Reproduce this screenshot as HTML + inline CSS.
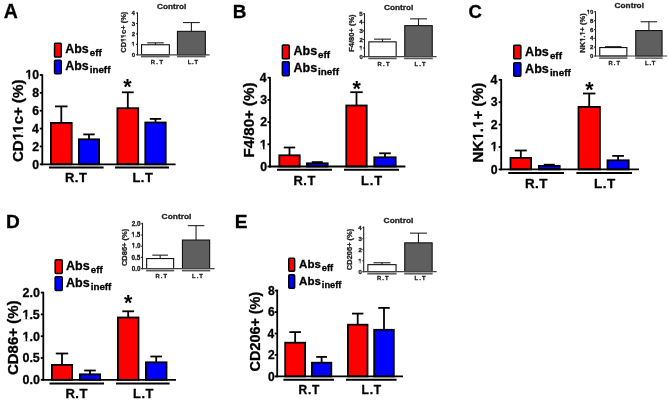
<!DOCTYPE html>
<html><head><meta charset="utf-8"><style>
html,body{margin:0;padding:0;background:#fff;}
body{width:669px;height:402px;overflow:hidden;}
svg{display:block;font-family:"Liberation Sans", sans-serif;filter:blur(0.35px);}
</style></head><body>
<svg width="669" height="402" viewBox="0 0 669 402">
<rect width="669" height="402" fill="#fff"/>
<line x1="61.30" y1="106.40" x2="61.30" y2="123.80" stroke="#000" stroke-width="1.8" stroke-linecap="butt"/>
<line x1="55.05" y1="106.40" x2="67.55" y2="106.40" stroke="#000" stroke-width="1.8" stroke-linecap="butt"/>
<rect x="50.90" y="122.90" width="20.80" height="41.40" fill="#ff0000" stroke="#000" stroke-width="1.8"/>
<line x1="89.00" y1="134.40" x2="89.00" y2="140.20" stroke="#000" stroke-width="1.8" stroke-linecap="butt"/>
<line x1="83.30" y1="134.40" x2="94.70" y2="134.40" stroke="#000" stroke-width="1.8" stroke-linecap="butt"/>
<rect x="78.90" y="139.30" width="20.20" height="25.00" fill="#0000ff" stroke="#000" stroke-width="1.8"/>
<line x1="127.80" y1="92.30" x2="127.80" y2="109.10" stroke="#000" stroke-width="1.8" stroke-linecap="butt"/>
<line x1="121.90" y1="92.30" x2="133.70" y2="92.30" stroke="#000" stroke-width="1.8" stroke-linecap="butt"/>
<rect x="117.40" y="108.20" width="20.80" height="56.10" fill="#ff0000" stroke="#000" stroke-width="1.8"/>
<line x1="155.50" y1="118.90" x2="155.50" y2="123.40" stroke="#000" stroke-width="1.8" stroke-linecap="butt"/>
<line x1="149.80" y1="118.90" x2="161.20" y2="118.90" stroke="#000" stroke-width="1.8" stroke-linecap="butt"/>
<rect x="145.30" y="122.50" width="20.40" height="41.80" fill="#0000ff" stroke="#000" stroke-width="1.8"/>
<line x1="42.30" y1="74.30" x2="42.30" y2="165.20" stroke="#000" stroke-width="1.8" stroke-linecap="butt"/>
<line x1="41.40" y1="164.30" x2="175.60" y2="164.30" stroke="#000" stroke-width="1.8" stroke-linecap="butt"/>
<line x1="39.80" y1="164.30" x2="42.30" y2="164.30" stroke="#000" stroke-width="1.8" stroke-linecap="butt"/>
<text x="32.37" y="168.54" font-size="12.3" font-weight="bold" stroke="#000" stroke-width="0.3">0</text>
<line x1="39.80" y1="146.44" x2="42.30" y2="146.44" stroke="#000" stroke-width="1.8" stroke-linecap="butt"/>
<text x="32.37" y="150.75" font-size="12.3" font-weight="bold" stroke="#000" stroke-width="0.3">2</text>
<line x1="39.80" y1="128.58" x2="42.30" y2="128.58" stroke="#000" stroke-width="1.8" stroke-linecap="butt"/>
<text x="31.94" y="132.82" font-size="12.3" font-weight="bold" stroke="#000" stroke-width="0.3">4</text>
<line x1="39.80" y1="110.72" x2="42.30" y2="110.72" stroke="#000" stroke-width="1.8" stroke-linecap="butt"/>
<text x="32.30" y="114.96" font-size="12.3" font-weight="bold" stroke="#000" stroke-width="0.3">6</text>
<line x1="39.80" y1="92.86" x2="42.30" y2="92.86" stroke="#000" stroke-width="1.8" stroke-linecap="butt"/>
<text x="32.24" y="97.10" font-size="12.3" font-weight="bold" stroke="#000" stroke-width="0.3">8</text>
<line x1="39.80" y1="75.00" x2="42.30" y2="75.00" stroke="#000" stroke-width="1.8" stroke-linecap="butt"/>
<text x="25.54" y="79.24" font-size="12.3" font-weight="bold" stroke="#000" stroke-width="0.3">10</text>
<line x1="49.00" y1="167.60" x2="103.60" y2="167.60" stroke="#000" stroke-width="2.0" stroke-linecap="butt"/>
<line x1="115.00" y1="167.60" x2="169.00" y2="167.60" stroke="#000" stroke-width="2.0" stroke-linecap="butt"/>
<text x="65.02" y="182.29" font-size="13.01" font-weight="bold" fill="#000" textLength="21.83" lengthAdjust="spacing" stroke="#000" stroke-width="0.3">R.T</text>
<text x="132.42" y="182.35" font-size="12.89" font-weight="bold" fill="#000" textLength="20.41" lengthAdjust="spacing" stroke="#000" stroke-width="0.3">L.T</text>
<text transform="translate(23.05,162.11) rotate(-90)" font-size="15.10" font-weight="bold" fill="#000" stroke="#000" stroke-width="0.3">CD11c+ (%)</text>
<text x="123.31" y="93.76" font-size="21.5" font-weight="bold" stroke="none">*</text>
<rect x="54.55" y="43.15" width="6.70" height="13.90" rx="0.9" fill="#ff0000" stroke="#000" stroke-width="1.5"/>
<text x="65.29" y="53.00" font-size="12.4" font-weight="bold" stroke="#000" stroke-width="0.3">Abs</text>
<text x="89.72" y="56.00" font-size="9.8" font-weight="bold" stroke="#000" stroke-width="0.3">eff</text>
<rect x="54.55" y="60.15" width="6.70" height="13.60" rx="0.9" fill="#0000ff" stroke="#000" stroke-width="1.5"/>
<text x="65.29" y="69.60" font-size="12.4" font-weight="bold" stroke="#000" stroke-width="0.3">Abs</text>
<text x="89.72" y="72.60" font-size="9.8" font-weight="bold" stroke="#000" stroke-width="0.3">ineff</text>
<text x="3.83" y="18.02" font-size="19.49" font-weight="bold" fill="#000" stroke="#000" stroke-width="0.3">A</text>
<line x1="289.50" y1="147.50" x2="289.50" y2="156.20" stroke="#000" stroke-width="1.8" stroke-linecap="butt"/>
<line x1="283.80" y1="147.50" x2="295.20" y2="147.50" stroke="#000" stroke-width="1.8" stroke-linecap="butt"/>
<rect x="279.30" y="155.30" width="20.40" height="11.20" fill="#ff0000" stroke="#000" stroke-width="1.8"/>
<line x1="317.30" y1="162.10" x2="317.30" y2="164.20" stroke="#000" stroke-width="1.8" stroke-linecap="butt"/>
<line x1="311.80" y1="162.10" x2="322.80" y2="162.10" stroke="#000" stroke-width="1.8" stroke-linecap="butt"/>
<rect x="306.90" y="163.30" width="20.80" height="3.20" fill="#0000ff" stroke="#000" stroke-width="1.8"/>
<line x1="356.50" y1="92.20" x2="356.50" y2="106.40" stroke="#000" stroke-width="1.8" stroke-linecap="butt"/>
<line x1="350.30" y1="92.20" x2="362.70" y2="92.20" stroke="#000" stroke-width="1.8" stroke-linecap="butt"/>
<rect x="346.30" y="105.50" width="20.40" height="61.00" fill="#ff0000" stroke="#000" stroke-width="1.8"/>
<line x1="385.00" y1="153.30" x2="385.00" y2="158.20" stroke="#000" stroke-width="1.8" stroke-linecap="butt"/>
<line x1="379.20" y1="153.30" x2="390.80" y2="153.30" stroke="#000" stroke-width="1.8" stroke-linecap="butt"/>
<rect x="374.30" y="157.30" width="21.40" height="9.20" fill="#0000ff" stroke="#000" stroke-width="1.8"/>
<line x1="270.00" y1="77.00" x2="270.00" y2="167.40" stroke="#000" stroke-width="1.8" stroke-linecap="butt"/>
<line x1="269.10" y1="166.50" x2="405.40" y2="166.50" stroke="#000" stroke-width="1.8" stroke-linecap="butt"/>
<line x1="267.50" y1="166.50" x2="270.00" y2="166.50" stroke="#000" stroke-width="1.8" stroke-linecap="butt"/>
<text x="260.27" y="170.74" font-size="12.3" font-weight="bold" stroke="#000" stroke-width="0.3">0</text>
<line x1="267.50" y1="144.30" x2="270.00" y2="144.30" stroke="#000" stroke-width="1.8" stroke-linecap="butt"/>
<text x="260.08" y="148.54" font-size="12.3" font-weight="bold" stroke="#000" stroke-width="0.3">1</text>
<line x1="267.50" y1="122.10" x2="270.00" y2="122.10" stroke="#000" stroke-width="1.8" stroke-linecap="butt"/>
<text x="260.27" y="126.41" font-size="12.3" font-weight="bold" stroke="#000" stroke-width="0.3">2</text>
<line x1="267.50" y1="99.90" x2="270.00" y2="99.90" stroke="#000" stroke-width="1.8" stroke-linecap="butt"/>
<text x="260.20" y="104.14" font-size="12.3" font-weight="bold" stroke="#000" stroke-width="0.3">3</text>
<line x1="267.50" y1="77.70" x2="270.00" y2="77.70" stroke="#000" stroke-width="1.8" stroke-linecap="butt"/>
<text x="259.84" y="81.94" font-size="12.3" font-weight="bold" stroke="#000" stroke-width="0.3">4</text>
<line x1="277.00" y1="169.80" x2="332.00" y2="169.80" stroke="#000" stroke-width="2.0" stroke-linecap="butt"/>
<line x1="344.00" y1="169.80" x2="399.00" y2="169.80" stroke="#000" stroke-width="2.0" stroke-linecap="butt"/>
<text x="293.41" y="184.96" font-size="12.93" font-weight="bold" fill="#000" textLength="22.04" lengthAdjust="spacing" stroke="#000" stroke-width="0.3">R.T</text>
<text x="360.98" y="184.75" font-size="12.88" font-weight="bold" fill="#000" textLength="21.26" lengthAdjust="spacing" stroke="#000" stroke-width="0.3">L.T</text>
<text transform="translate(254.25,157.57) rotate(-90)" font-size="15.10" font-weight="bold" fill="#000" stroke="#000" stroke-width="0.3">F4/80+ (%)</text>
<text x="352.41" y="95.86" font-size="21.5" font-weight="bold" stroke="none">*</text>
<rect x="282.35" y="44.95" width="6.90" height="13.90" rx="0.9" fill="#ff0000" stroke="#000" stroke-width="1.5"/>
<text x="293.49" y="55.00" font-size="12.5" font-weight="bold" stroke="#000" stroke-width="0.3">Abs</text>
<text x="318.10" y="58.00" font-size="9.9" font-weight="bold" stroke="#000" stroke-width="0.3">eff</text>
<rect x="282.35" y="61.85" width="6.90" height="13.90" rx="0.9" fill="#0000ff" stroke="#000" stroke-width="1.5"/>
<text x="293.49" y="71.90" font-size="12.5" font-weight="bold" stroke="#000" stroke-width="0.3">Abs</text>
<text x="318.10" y="74.90" font-size="9.9" font-weight="bold" stroke="#000" stroke-width="0.3">ineff</text>
<text x="232.80" y="18.03" font-size="18.93" font-weight="bold" fill="#000" stroke="#000" stroke-width="0.3">B</text>
<line x1="520.80" y1="150.50" x2="520.80" y2="158.80" stroke="#000" stroke-width="1.8" stroke-linecap="butt"/>
<line x1="514.80" y1="150.50" x2="526.80" y2="150.50" stroke="#000" stroke-width="1.8" stroke-linecap="butt"/>
<rect x="510.50" y="157.90" width="20.60" height="11.50" fill="#ff0000" stroke="#000" stroke-width="1.8"/>
<line x1="549.30" y1="164.70" x2="549.30" y2="166.80" stroke="#000" stroke-width="1.8" stroke-linecap="butt"/>
<line x1="543.80" y1="164.70" x2="554.80" y2="164.70" stroke="#000" stroke-width="1.8" stroke-linecap="butt"/>
<rect x="538.90" y="165.90" width="20.80" height="3.50" fill="#0000ff" stroke="#000" stroke-width="1.8"/>
<line x1="589.20" y1="93.50" x2="589.20" y2="107.80" stroke="#000" stroke-width="1.8" stroke-linecap="butt"/>
<line x1="583.00" y1="93.50" x2="595.40" y2="93.50" stroke="#000" stroke-width="1.8" stroke-linecap="butt"/>
<rect x="578.50" y="106.90" width="21.40" height="62.50" fill="#ff0000" stroke="#000" stroke-width="1.8"/>
<line x1="618.10" y1="155.90" x2="618.10" y2="161.20" stroke="#000" stroke-width="1.8" stroke-linecap="butt"/>
<line x1="612.30" y1="155.90" x2="623.90" y2="155.90" stroke="#000" stroke-width="1.8" stroke-linecap="butt"/>
<rect x="607.50" y="160.30" width="21.20" height="9.10" fill="#0000ff" stroke="#000" stroke-width="1.8"/>
<line x1="501.20" y1="79.00" x2="501.20" y2="170.30" stroke="#000" stroke-width="1.8" stroke-linecap="butt"/>
<line x1="500.30" y1="169.40" x2="639.00" y2="169.40" stroke="#000" stroke-width="1.8" stroke-linecap="butt"/>
<line x1="498.70" y1="169.40" x2="501.20" y2="169.40" stroke="#000" stroke-width="1.8" stroke-linecap="butt"/>
<text x="490.87" y="173.64" font-size="12.3" font-weight="bold" stroke="#000" stroke-width="0.3">0</text>
<line x1="498.70" y1="147.00" x2="501.20" y2="147.00" stroke="#000" stroke-width="1.8" stroke-linecap="butt"/>
<text x="490.68" y="151.24" font-size="12.3" font-weight="bold" stroke="#000" stroke-width="0.3">1</text>
<line x1="498.70" y1="124.60" x2="501.20" y2="124.60" stroke="#000" stroke-width="1.8" stroke-linecap="butt"/>
<text x="490.87" y="128.91" font-size="12.3" font-weight="bold" stroke="#000" stroke-width="0.3">2</text>
<line x1="498.70" y1="102.20" x2="501.20" y2="102.20" stroke="#000" stroke-width="1.8" stroke-linecap="butt"/>
<text x="490.80" y="106.44" font-size="12.3" font-weight="bold" stroke="#000" stroke-width="0.3">3</text>
<line x1="498.70" y1="79.80" x2="501.20" y2="79.80" stroke="#000" stroke-width="1.8" stroke-linecap="butt"/>
<text x="490.44" y="84.04" font-size="12.3" font-weight="bold" stroke="#000" stroke-width="0.3">4</text>
<line x1="508.30" y1="173.10" x2="564.00" y2="173.10" stroke="#000" stroke-width="2.0" stroke-linecap="butt"/>
<line x1="576.40" y1="173.10" x2="632.00" y2="173.10" stroke="#000" stroke-width="2.0" stroke-linecap="butt"/>
<text x="524.89" y="187.73" font-size="13.41" font-weight="bold" fill="#000" textLength="22.67" lengthAdjust="spacing" stroke="#000" stroke-width="0.3">R.T</text>
<text x="593.97" y="187.76" font-size="13.50" font-weight="bold" fill="#000" textLength="21.36" lengthAdjust="spacing" stroke="#000" stroke-width="0.3">L.T</text>
<text transform="translate(482.92,162.55) rotate(-90)" font-size="15.20" font-weight="bold" fill="#000" stroke="#000" stroke-width="0.3">NK1.1+ (%)</text>
<text x="585.21" y="97.11" font-size="21.5" font-weight="bold" stroke="none">*</text>
<rect x="513.75" y="45.15" width="7.10" height="13.70" rx="0.9" fill="#ff0000" stroke="#000" stroke-width="1.5"/>
<text x="525.08" y="55.90" font-size="12.6" font-weight="bold" stroke="#000" stroke-width="0.3">Abs</text>
<text x="549.89" y="58.90" font-size="9.9" font-weight="bold" stroke="#000" stroke-width="0.3">eff</text>
<rect x="513.75" y="62.75" width="7.10" height="13.50" rx="0.9" fill="#0000ff" stroke="#000" stroke-width="1.5"/>
<text x="525.08" y="72.60" font-size="12.6" font-weight="bold" stroke="#000" stroke-width="0.3">Abs</text>
<text x="549.89" y="75.60" font-size="9.9" font-weight="bold" stroke="#000" stroke-width="0.3">ineff</text>
<text x="468.50" y="17.68" font-size="18.49" font-weight="bold" fill="#000" stroke="#000" stroke-width="0.3">C</text>
<line x1="62.00" y1="353.50" x2="62.00" y2="365.80" stroke="#000" stroke-width="1.8" stroke-linecap="butt"/>
<line x1="55.80" y1="353.50" x2="68.20" y2="353.50" stroke="#000" stroke-width="1.8" stroke-linecap="butt"/>
<rect x="51.90" y="364.90" width="20.20" height="14.90" fill="#ff0000" stroke="#000" stroke-width="1.8"/>
<line x1="90.00" y1="370.50" x2="90.00" y2="375.20" stroke="#000" stroke-width="1.8" stroke-linecap="butt"/>
<line x1="84.20" y1="370.50" x2="95.80" y2="370.50" stroke="#000" stroke-width="1.8" stroke-linecap="butt"/>
<rect x="79.90" y="374.30" width="20.20" height="5.50" fill="#0000ff" stroke="#000" stroke-width="1.8"/>
<line x1="128.20" y1="311.30" x2="128.20" y2="318.40" stroke="#000" stroke-width="1.8" stroke-linecap="butt"/>
<line x1="122.30" y1="311.30" x2="134.10" y2="311.30" stroke="#000" stroke-width="1.8" stroke-linecap="butt"/>
<rect x="117.90" y="317.50" width="20.60" height="62.30" fill="#ff0000" stroke="#000" stroke-width="1.8"/>
<line x1="156.20" y1="356.50" x2="156.20" y2="363.20" stroke="#000" stroke-width="1.8" stroke-linecap="butt"/>
<line x1="150.40" y1="356.50" x2="162.00" y2="356.50" stroke="#000" stroke-width="1.8" stroke-linecap="butt"/>
<rect x="145.90" y="362.30" width="20.60" height="17.50" fill="#0000ff" stroke="#000" stroke-width="1.8"/>
<line x1="43.30" y1="291.80" x2="43.30" y2="380.70" stroke="#000" stroke-width="1.8" stroke-linecap="butt"/>
<line x1="42.40" y1="379.80" x2="176.00" y2="379.80" stroke="#000" stroke-width="1.8" stroke-linecap="butt"/>
<line x1="40.80" y1="379.80" x2="43.30" y2="379.80" stroke="#000" stroke-width="1.8" stroke-linecap="butt"/>
<text x="22.62" y="384.11" font-size="12.5" font-weight="bold" stroke="#000" stroke-width="0.3">0.0</text>
<line x1="40.80" y1="358.00" x2="43.30" y2="358.00" stroke="#000" stroke-width="1.8" stroke-linecap="butt"/>
<text x="22.44" y="362.31" font-size="12.5" font-weight="bold" stroke="#000" stroke-width="0.3">0.5</text>
<line x1="40.80" y1="336.20" x2="43.30" y2="336.20" stroke="#000" stroke-width="1.8" stroke-linecap="butt"/>
<text x="22.62" y="340.51" font-size="12.5" font-weight="bold" stroke="#000" stroke-width="0.3">1.0</text>
<line x1="40.80" y1="314.40" x2="43.30" y2="314.40" stroke="#000" stroke-width="1.8" stroke-linecap="butt"/>
<text x="22.44" y="318.65" font-size="12.5" font-weight="bold" stroke="#000" stroke-width="0.3">1.5</text>
<line x1="40.80" y1="292.60" x2="43.30" y2="292.60" stroke="#000" stroke-width="1.8" stroke-linecap="butt"/>
<text x="22.62" y="296.91" font-size="12.5" font-weight="bold" stroke="#000" stroke-width="0.3">2.0</text>
<line x1="49.50" y1="383.40" x2="104.00" y2="383.40" stroke="#000" stroke-width="2.0" stroke-linecap="butt"/>
<line x1="116.00" y1="383.40" x2="169.60" y2="383.40" stroke="#000" stroke-width="2.0" stroke-linecap="butt"/>
<text x="65.41" y="397.51" font-size="13.07" font-weight="bold" fill="#000" textLength="22.04" lengthAdjust="spacing" stroke="#000" stroke-width="0.3">R.T</text>
<text x="133.02" y="397.95" font-size="12.89" font-weight="bold" fill="#000" textLength="20.41" lengthAdjust="spacing" stroke="#000" stroke-width="0.3">L.T</text>
<text transform="translate(17.88,375.09) rotate(-90)" font-size="15.00" font-weight="bold" fill="#000" stroke="#000" stroke-width="0.3">CD86+ (%)</text>
<text x="124.01" y="310.46" font-size="21.5" font-weight="bold" stroke="none">*</text>
<rect x="55.15" y="259.75" width="7.10" height="13.70" rx="0.9" fill="#ff0000" stroke="#000" stroke-width="1.5"/>
<text x="66.09" y="270.00" font-size="12.5" font-weight="bold" stroke="#000" stroke-width="0.3">Abs</text>
<text x="90.70" y="273.00" font-size="9.8" font-weight="bold" stroke="#000" stroke-width="0.3">eff</text>
<rect x="55.15" y="276.75" width="7.10" height="13.70" rx="0.9" fill="#0000ff" stroke="#000" stroke-width="1.5"/>
<text x="66.09" y="286.90" font-size="12.5" font-weight="bold" stroke="#000" stroke-width="0.3">Abs</text>
<text x="90.70" y="289.90" font-size="9.8" font-weight="bold" stroke="#000" stroke-width="0.3">ineff</text>
<text x="6.10" y="228.38" font-size="19.07" font-weight="bold" fill="#000" stroke="#000" stroke-width="0.3">D</text>
<line x1="295.15" y1="332.10" x2="295.15" y2="343.60" stroke="#000" stroke-width="1.8" stroke-linecap="butt"/>
<line x1="289.35" y1="332.10" x2="300.95" y2="332.10" stroke="#000" stroke-width="1.8" stroke-linecap="butt"/>
<rect x="285.20" y="342.70" width="19.90" height="33.70" fill="#ff0000" stroke="#000" stroke-width="1.8"/>
<line x1="321.60" y1="356.90" x2="321.60" y2="363.60" stroke="#000" stroke-width="1.8" stroke-linecap="butt"/>
<line x1="316.20" y1="356.90" x2="327.00" y2="356.90" stroke="#000" stroke-width="1.8" stroke-linecap="butt"/>
<rect x="311.90" y="362.70" width="19.40" height="13.70" fill="#0000ff" stroke="#000" stroke-width="1.8"/>
<line x1="357.70" y1="313.60" x2="357.70" y2="325.60" stroke="#000" stroke-width="1.8" stroke-linecap="butt"/>
<line x1="352.00" y1="313.60" x2="363.40" y2="313.60" stroke="#000" stroke-width="1.8" stroke-linecap="butt"/>
<rect x="347.90" y="324.70" width="19.60" height="51.70" fill="#ff0000" stroke="#000" stroke-width="1.8"/>
<line x1="384.00" y1="307.90" x2="384.00" y2="330.70" stroke="#000" stroke-width="1.8" stroke-linecap="butt"/>
<line x1="378.25" y1="307.90" x2="389.75" y2="307.90" stroke="#000" stroke-width="1.8" stroke-linecap="butt"/>
<rect x="374.20" y="329.80" width="19.60" height="46.60" fill="#0000ff" stroke="#000" stroke-width="1.8"/>
<line x1="277.20" y1="289.60" x2="277.20" y2="377.30" stroke="#000" stroke-width="1.8" stroke-linecap="butt"/>
<line x1="276.30" y1="376.40" x2="403.00" y2="376.40" stroke="#000" stroke-width="1.8" stroke-linecap="butt"/>
<line x1="274.70" y1="376.40" x2="277.20" y2="376.40" stroke="#000" stroke-width="1.8" stroke-linecap="butt"/>
<text x="268.02" y="380.54" font-size="12.0" font-weight="bold" stroke="#000" stroke-width="0.3">0</text>
<line x1="274.70" y1="354.96" x2="277.20" y2="354.96" stroke="#000" stroke-width="1.8" stroke-linecap="butt"/>
<text x="268.02" y="359.16" font-size="12.0" font-weight="bold" stroke="#000" stroke-width="0.3">2</text>
<line x1="274.70" y1="333.52" x2="277.20" y2="333.52" stroke="#000" stroke-width="1.8" stroke-linecap="butt"/>
<text x="267.60" y="337.66" font-size="12.0" font-weight="bold" stroke="#000" stroke-width="0.3">4</text>
<line x1="274.70" y1="312.08" x2="277.20" y2="312.08" stroke="#000" stroke-width="1.8" stroke-linecap="butt"/>
<text x="267.96" y="316.22" font-size="12.0" font-weight="bold" stroke="#000" stroke-width="0.3">6</text>
<line x1="274.70" y1="290.64" x2="277.20" y2="290.64" stroke="#000" stroke-width="1.8" stroke-linecap="butt"/>
<text x="267.90" y="294.78" font-size="12.0" font-weight="bold" stroke="#000" stroke-width="0.3">8</text>
<line x1="283.40" y1="379.70" x2="334.00" y2="379.70" stroke="#000" stroke-width="2.0" stroke-linecap="butt"/>
<line x1="346.00" y1="379.70" x2="396.60" y2="379.70" stroke="#000" stroke-width="2.0" stroke-linecap="butt"/>
<text x="298.45" y="393.85" font-size="12.02" font-weight="bold" fill="#000" textLength="20.99" lengthAdjust="spacing" stroke="#000" stroke-width="0.3">R.T</text>
<text x="361.44" y="393.88" font-size="12.10" font-weight="bold" fill="#000" textLength="19.78" lengthAdjust="spacing" stroke="#000" stroke-width="0.3">L.T</text>
<text transform="translate(260.44,371.39) rotate(-90)" font-size="14.40" font-weight="bold" fill="#000" stroke="#000" stroke-width="0.3">CD206+ (%)</text>
<rect x="288.75" y="258.35" width="5.90" height="12.90" rx="0.9" fill="#ff0000" stroke="#000" stroke-width="1.5"/>
<text x="299.11" y="268.10" font-size="11.5" font-weight="bold" stroke="#000" stroke-width="0.3">Abs</text>
<text x="321.84" y="270.90" font-size="9.3" font-weight="bold" stroke="#000" stroke-width="0.3">eff</text>
<rect x="288.75" y="274.75" width="5.90" height="13.50" rx="0.9" fill="#0000ff" stroke="#000" stroke-width="1.5"/>
<text x="299.11" y="285.00" font-size="11.5" font-weight="bold" stroke="#000" stroke-width="0.3">Abs</text>
<text x="321.84" y="287.80" font-size="9.3" font-weight="bold" stroke="#000" stroke-width="0.3">ineff</text>
<text x="234.84" y="228.11" font-size="19.15" font-weight="bold" fill="#000" stroke="#000" stroke-width="0.3">E</text>
<line x1="155.45" y1="42.85" x2="155.45" y2="45.30" stroke="#222" stroke-width="1.1" stroke-linecap="butt"/>
<line x1="147.20" y1="42.85" x2="163.70" y2="42.85" stroke="#222" stroke-width="1.1" stroke-linecap="butt"/>
<rect x="141.55" y="44.75" width="27.80" height="10.05" fill="#ffffff" stroke="#111" stroke-width="1.1"/>
<line x1="191.40" y1="22.55" x2="191.40" y2="31.90" stroke="#222" stroke-width="1.1" stroke-linecap="butt"/>
<line x1="183.00" y1="22.55" x2="199.80" y2="22.55" stroke="#222" stroke-width="1.1" stroke-linecap="butt"/>
<rect x="177.45" y="31.35" width="27.90" height="23.45" fill="#5f5f5f" stroke="#111" stroke-width="1.1"/>
<line x1="137.50" y1="12.30" x2="137.50" y2="55.35" stroke="#222" stroke-width="1.1" stroke-linecap="butt"/>
<line x1="136.95" y1="54.80" x2="209.70" y2="54.80" stroke="#444" stroke-width="1.2" stroke-linecap="butt"/>
<line x1="136.10" y1="54.80" x2="137.50" y2="54.80" stroke="#222" stroke-width="1.1" stroke-linecap="butt"/>
<text x="131.71" y="56.87" font-size="6.0" font-weight="bold" fill="#1a1a1a" stroke="#1a1a1a" stroke-width="0.3">0</text>
<line x1="136.10" y1="44.35" x2="137.50" y2="44.35" stroke="#222" stroke-width="1.1" stroke-linecap="butt"/>
<text x="131.62" y="46.42" font-size="6.0" font-weight="bold" fill="#1a1a1a" stroke="#1a1a1a" stroke-width="0.3">1</text>
<line x1="136.10" y1="33.90" x2="137.50" y2="33.90" stroke="#222" stroke-width="1.1" stroke-linecap="butt"/>
<text x="131.71" y="36.00" font-size="6.0" font-weight="bold" fill="#1a1a1a" stroke="#1a1a1a" stroke-width="0.3">2</text>
<line x1="136.10" y1="23.45" x2="137.50" y2="23.45" stroke="#222" stroke-width="1.1" stroke-linecap="butt"/>
<text x="131.68" y="25.52" font-size="6.0" font-weight="bold" fill="#1a1a1a" stroke="#1a1a1a" stroke-width="0.3">3</text>
<line x1="136.10" y1="13.00" x2="137.50" y2="13.00" stroke="#222" stroke-width="1.1" stroke-linecap="butt"/>
<text x="131.50" y="15.07" font-size="6.0" font-weight="bold" fill="#1a1a1a" stroke="#1a1a1a" stroke-width="0.3">4</text>
<line x1="141.00" y1="56.60" x2="169.70" y2="56.60" stroke="#5a5a5a" stroke-width="1.5" stroke-linecap="butt"/>
<line x1="177.00" y1="56.60" x2="205.70" y2="56.60" stroke="#5a5a5a" stroke-width="1.5" stroke-linecap="butt"/>
<text x="150.65" y="63.55" font-size="5.80" font-weight="bold" fill="#222" textLength="12.38" lengthAdjust="spacing" stroke="#222" stroke-width="0.3">R.T</text>
<text x="187.70" y="63.55" font-size="5.80" font-weight="bold" fill="#222" textLength="10.31" lengthAdjust="spacing" stroke="#222" stroke-width="0.3">L.T</text>
<text transform="translate(125.94,52.74) rotate(-90)" font-size="7.50" font-weight="bold" fill="#222" stroke="#222" stroke-width="0.3">CD11c+ (%)</text>
<text x="157.02" y="9.42" font-size="7.33" font-weight="bold" fill="#222" textLength="29.35" lengthAdjust="spacingAndGlyphs" stroke="#222" stroke-width="0.3">Control</text>
<line x1="382.50" y1="39.15" x2="382.50" y2="42.40" stroke="#222" stroke-width="1.1" stroke-linecap="butt"/>
<line x1="374.05" y1="39.15" x2="390.95" y2="39.15" stroke="#222" stroke-width="1.1" stroke-linecap="butt"/>
<rect x="368.85" y="41.85" width="27.30" height="14.75" fill="#ffffff" stroke="#111" stroke-width="1.1"/>
<line x1="418.50" y1="18.85" x2="418.50" y2="26.20" stroke="#222" stroke-width="1.1" stroke-linecap="butt"/>
<line x1="410.05" y1="18.85" x2="426.95" y2="18.85" stroke="#222" stroke-width="1.1" stroke-linecap="butt"/>
<rect x="404.75" y="25.65" width="27.50" height="30.95" fill="#5f5f5f" stroke="#111" stroke-width="1.1"/>
<line x1="364.50" y1="13.20" x2="364.50" y2="57.15" stroke="#222" stroke-width="1.1" stroke-linecap="butt"/>
<line x1="363.95" y1="56.60" x2="436.60" y2="56.60" stroke="#444" stroke-width="1.2" stroke-linecap="butt"/>
<line x1="363.10" y1="56.60" x2="364.50" y2="56.60" stroke="#222" stroke-width="1.1" stroke-linecap="butt"/>
<text x="359.41" y="58.67" font-size="6.0" font-weight="bold" fill="#1a1a1a" stroke="#1a1a1a" stroke-width="0.3">0</text>
<line x1="363.10" y1="48.02" x2="364.50" y2="48.02" stroke="#222" stroke-width="1.1" stroke-linecap="butt"/>
<text x="359.32" y="50.09" font-size="6.0" font-weight="bold" fill="#1a1a1a" stroke="#1a1a1a" stroke-width="0.3">1</text>
<line x1="363.10" y1="39.44" x2="364.50" y2="39.44" stroke="#222" stroke-width="1.1" stroke-linecap="butt"/>
<text x="359.41" y="41.54" font-size="6.0" font-weight="bold" fill="#1a1a1a" stroke="#1a1a1a" stroke-width="0.3">2</text>
<line x1="363.10" y1="30.86" x2="364.50" y2="30.86" stroke="#222" stroke-width="1.1" stroke-linecap="butt"/>
<text x="359.38" y="32.93" font-size="6.0" font-weight="bold" fill="#1a1a1a" stroke="#1a1a1a" stroke-width="0.3">3</text>
<line x1="363.10" y1="22.28" x2="364.50" y2="22.28" stroke="#222" stroke-width="1.1" stroke-linecap="butt"/>
<text x="359.20" y="24.35" font-size="6.0" font-weight="bold" fill="#1a1a1a" stroke="#1a1a1a" stroke-width="0.3">4</text>
<line x1="363.10" y1="13.70" x2="364.50" y2="13.70" stroke="#222" stroke-width="1.1" stroke-linecap="butt"/>
<text x="359.32" y="15.74" font-size="6.0" font-weight="bold" fill="#1a1a1a" stroke="#1a1a1a" stroke-width="0.3">5</text>
<line x1="368.30" y1="58.50" x2="396.70" y2="58.50" stroke="#5a5a5a" stroke-width="1.5" stroke-linecap="butt"/>
<line x1="404.20" y1="58.50" x2="432.80" y2="58.50" stroke="#5a5a5a" stroke-width="1.5" stroke-linecap="butt"/>
<text x="377.47" y="65.55" font-size="5.80" font-weight="bold" fill="#222" textLength="11.96" lengthAdjust="spacing" stroke="#222" stroke-width="0.3">R.T</text>
<text x="414.47" y="65.55" font-size="5.80" font-weight="bold" fill="#222" textLength="11.15" lengthAdjust="spacing" stroke="#222" stroke-width="0.3">L.T</text>
<text transform="translate(354.14,51.76) rotate(-90)" font-size="7.50" font-weight="bold" fill="#222" stroke="#222" stroke-width="0.3">F4/80+ (%)</text>
<text x="384.02" y="10.37" font-size="7.46" font-weight="bold" fill="#222" textLength="29.35" lengthAdjust="spacingAndGlyphs" stroke="#222" stroke-width="0.3">Control</text>
<line x1="613.30" y1="46.65" x2="613.30" y2="48.10" stroke="#222" stroke-width="1.1" stroke-linecap="butt"/>
<line x1="605.05" y1="46.65" x2="621.55" y2="46.65" stroke="#222" stroke-width="1.1" stroke-linecap="butt"/>
<rect x="599.75" y="47.55" width="27.10" height="8.45" fill="#ffffff" stroke="#111" stroke-width="1.1"/>
<line x1="648.90" y1="21.75" x2="648.90" y2="31.10" stroke="#222" stroke-width="1.1" stroke-linecap="butt"/>
<line x1="640.65" y1="21.75" x2="657.15" y2="21.75" stroke="#222" stroke-width="1.1" stroke-linecap="butt"/>
<rect x="635.75" y="30.55" width="26.30" height="25.45" fill="#5f5f5f" stroke="#111" stroke-width="1.1"/>
<line x1="595.50" y1="11.30" x2="595.50" y2="56.55" stroke="#222" stroke-width="1.1" stroke-linecap="butt"/>
<line x1="594.95" y1="56.00" x2="667.10" y2="56.00" stroke="#444" stroke-width="1.2" stroke-linecap="butt"/>
<line x1="594.10" y1="56.00" x2="595.50" y2="56.00" stroke="#222" stroke-width="1.1" stroke-linecap="butt"/>
<text x="590.11" y="58.07" font-size="6.0" font-weight="bold" fill="#1a1a1a" stroke="#1a1a1a" stroke-width="0.3">0</text>
<line x1="594.10" y1="47.16" x2="595.50" y2="47.16" stroke="#222" stroke-width="1.1" stroke-linecap="butt"/>
<text x="590.11" y="49.26" font-size="6.0" font-weight="bold" fill="#1a1a1a" stroke="#1a1a1a" stroke-width="0.3">2</text>
<line x1="594.10" y1="38.32" x2="595.50" y2="38.32" stroke="#222" stroke-width="1.1" stroke-linecap="butt"/>
<text x="589.90" y="40.39" font-size="6.0" font-weight="bold" fill="#1a1a1a" stroke="#1a1a1a" stroke-width="0.3">4</text>
<line x1="594.10" y1="29.48" x2="595.50" y2="29.48" stroke="#222" stroke-width="1.1" stroke-linecap="butt"/>
<text x="590.08" y="31.55" font-size="6.0" font-weight="bold" fill="#1a1a1a" stroke="#1a1a1a" stroke-width="0.3">6</text>
<line x1="594.10" y1="20.64" x2="595.50" y2="20.64" stroke="#222" stroke-width="1.1" stroke-linecap="butt"/>
<text x="590.05" y="22.71" font-size="6.0" font-weight="bold" fill="#1a1a1a" stroke="#1a1a1a" stroke-width="0.3">8</text>
<line x1="594.10" y1="11.80" x2="595.50" y2="11.80" stroke="#222" stroke-width="1.1" stroke-linecap="butt"/>
<text x="586.78" y="13.87" font-size="6.0" font-weight="bold" fill="#1a1a1a" stroke="#1a1a1a" stroke-width="0.3">10</text>
<line x1="599.20" y1="58.10" x2="627.40" y2="58.10" stroke="#5a5a5a" stroke-width="1.5" stroke-linecap="butt"/>
<line x1="635.20" y1="58.10" x2="662.60" y2="58.10" stroke="#5a5a5a" stroke-width="1.5" stroke-linecap="butt"/>
<text x="608.48" y="64.95" font-size="5.80" font-weight="bold" fill="#222" textLength="11.54" lengthAdjust="spacing" stroke="#222" stroke-width="0.3">R.T</text>
<text x="645.10" y="64.95" font-size="5.80" font-weight="bold" fill="#222" textLength="10.31" lengthAdjust="spacing" stroke="#222" stroke-width="0.3">L.T</text>
<text transform="translate(584.84,52.66) rotate(-90)" font-size="7.50" font-weight="bold" fill="#222" stroke="#222" stroke-width="0.3">NK1.1+ (%)</text>
<text x="614.62" y="8.29" font-size="7.67" font-weight="bold" fill="#222" textLength="29.35" lengthAdjust="spacingAndGlyphs" stroke="#222" stroke-width="0.3">Control</text>
<line x1="160.15" y1="255.15" x2="160.15" y2="259.10" stroke="#222" stroke-width="1.1" stroke-linecap="butt"/>
<line x1="152.30" y1="255.15" x2="168.00" y2="255.15" stroke="#222" stroke-width="1.1" stroke-linecap="butt"/>
<rect x="146.65" y="258.55" width="27.00" height="10.05" fill="#ffffff" stroke="#111" stroke-width="1.1"/>
<line x1="196.05" y1="225.65" x2="196.05" y2="240.60" stroke="#222" stroke-width="1.1" stroke-linecap="butt"/>
<line x1="187.80" y1="225.65" x2="204.30" y2="225.65" stroke="#222" stroke-width="1.1" stroke-linecap="butt"/>
<rect x="182.45" y="240.05" width="27.20" height="28.55" fill="#5f5f5f" stroke="#111" stroke-width="1.1"/>
<line x1="142.50" y1="222.80" x2="142.50" y2="269.15" stroke="#222" stroke-width="1.1" stroke-linecap="butt"/>
<line x1="141.95" y1="268.60" x2="214.60" y2="268.60" stroke="#444" stroke-width="1.2" stroke-linecap="butt"/>
<line x1="141.10" y1="268.60" x2="142.50" y2="268.60" stroke="#222" stroke-width="1.1" stroke-linecap="butt"/>
<text x="131.69" y="270.77" font-size="6.3" font-weight="bold" fill="#1a1a1a" stroke="#1a1a1a" stroke-width="0.3">0.0</text>
<line x1="141.10" y1="257.40" x2="142.50" y2="257.40" stroke="#222" stroke-width="1.1" stroke-linecap="butt"/>
<text x="131.60" y="259.57" font-size="6.3" font-weight="bold" fill="#1a1a1a" stroke="#1a1a1a" stroke-width="0.3">0.5</text>
<line x1="141.10" y1="246.20" x2="142.50" y2="246.20" stroke="#222" stroke-width="1.1" stroke-linecap="butt"/>
<text x="131.69" y="248.37" font-size="6.3" font-weight="bold" fill="#1a1a1a" stroke="#1a1a1a" stroke-width="0.3">1.0</text>
<line x1="141.10" y1="235.00" x2="142.50" y2="235.00" stroke="#222" stroke-width="1.1" stroke-linecap="butt"/>
<text x="131.60" y="237.14" font-size="6.3" font-weight="bold" fill="#1a1a1a" stroke="#1a1a1a" stroke-width="0.3">1.5</text>
<line x1="141.10" y1="223.80" x2="142.50" y2="223.80" stroke="#222" stroke-width="1.1" stroke-linecap="butt"/>
<text x="131.69" y="225.97" font-size="6.3" font-weight="bold" fill="#1a1a1a" stroke="#1a1a1a" stroke-width="0.3">2.0</text>
<line x1="146.10" y1="270.70" x2="174.20" y2="270.70" stroke="#5a5a5a" stroke-width="1.5" stroke-linecap="butt"/>
<line x1="181.90" y1="270.70" x2="210.20" y2="270.70" stroke="#5a5a5a" stroke-width="1.5" stroke-linecap="butt"/>
<text x="155.48" y="277.95" font-size="5.80" font-weight="bold" fill="#222" textLength="11.54" lengthAdjust="spacing" stroke="#222" stroke-width="0.3">R.T</text>
<text x="192.08" y="277.95" font-size="5.80" font-weight="bold" fill="#222" textLength="10.73" lengthAdjust="spacing" stroke="#222" stroke-width="0.3">L.T</text>
<text transform="translate(127.34,266.12) rotate(-90)" font-size="7.50" font-weight="bold" fill="#222" stroke="#222" stroke-width="0.3">CD86+ (%)</text>
<text x="161.62" y="219.39" font-size="7.52" font-weight="bold" fill="#222" textLength="29.76" lengthAdjust="spacingAndGlyphs" stroke="#222" stroke-width="0.3">Control</text>
<line x1="381.95" y1="262.75" x2="381.95" y2="265.20" stroke="#222" stroke-width="1.1" stroke-linecap="butt"/>
<line x1="373.45" y1="262.75" x2="390.45" y2="262.75" stroke="#222" stroke-width="1.1" stroke-linecap="butt"/>
<rect x="367.85" y="264.65" width="28.20" height="7.05" fill="#ffffff" stroke="#111" stroke-width="1.1"/>
<line x1="418.45" y1="233.15" x2="418.45" y2="243.40" stroke="#222" stroke-width="1.1" stroke-linecap="butt"/>
<line x1="409.95" y1="233.15" x2="426.95" y2="233.15" stroke="#222" stroke-width="1.1" stroke-linecap="butt"/>
<rect x="404.75" y="242.85" width="27.40" height="28.85" fill="#5f5f5f" stroke="#111" stroke-width="1.1"/>
<line x1="363.70" y1="226.50" x2="363.70" y2="272.25" stroke="#222" stroke-width="1.1" stroke-linecap="butt"/>
<line x1="363.15" y1="271.70" x2="436.60" y2="271.70" stroke="#444" stroke-width="1.2" stroke-linecap="butt"/>
<line x1="362.30" y1="271.70" x2="363.70" y2="271.70" stroke="#222" stroke-width="1.1" stroke-linecap="butt"/>
<text x="358.41" y="273.77" font-size="6.0" font-weight="bold" fill="#1a1a1a" stroke="#1a1a1a" stroke-width="0.3">0</text>
<line x1="362.30" y1="260.70" x2="363.70" y2="260.70" stroke="#222" stroke-width="1.1" stroke-linecap="butt"/>
<text x="358.32" y="262.77" font-size="6.0" font-weight="bold" fill="#1a1a1a" stroke="#1a1a1a" stroke-width="0.3">1</text>
<line x1="362.30" y1="249.70" x2="363.70" y2="249.70" stroke="#222" stroke-width="1.1" stroke-linecap="butt"/>
<text x="358.41" y="251.80" font-size="6.0" font-weight="bold" fill="#1a1a1a" stroke="#1a1a1a" stroke-width="0.3">2</text>
<line x1="362.30" y1="238.70" x2="363.70" y2="238.70" stroke="#222" stroke-width="1.1" stroke-linecap="butt"/>
<text x="358.38" y="240.77" font-size="6.0" font-weight="bold" fill="#1a1a1a" stroke="#1a1a1a" stroke-width="0.3">3</text>
<line x1="362.30" y1="227.70" x2="363.70" y2="227.70" stroke="#222" stroke-width="1.1" stroke-linecap="butt"/>
<text x="358.20" y="229.77" font-size="6.0" font-weight="bold" fill="#1a1a1a" stroke="#1a1a1a" stroke-width="0.3">4</text>
<line x1="367.30" y1="273.80" x2="396.60" y2="273.80" stroke="#5a5a5a" stroke-width="1.5" stroke-linecap="butt"/>
<line x1="404.20" y1="273.80" x2="432.70" y2="273.80" stroke="#5a5a5a" stroke-width="1.5" stroke-linecap="butt"/>
<text x="377.08" y="280.35" font-size="5.80" font-weight="bold" fill="#222" textLength="11.54" lengthAdjust="spacing" stroke="#222" stroke-width="0.3">R.T</text>
<text x="414.47" y="280.35" font-size="5.80" font-weight="bold" fill="#222" textLength="11.15" lengthAdjust="spacing" stroke="#222" stroke-width="0.3">L.T</text>
<text transform="translate(352.14,270.20) rotate(-90)" font-size="7.50" font-weight="bold" fill="#222" stroke="#222" stroke-width="0.3">CD206+ (%)</text>
<text x="383.62" y="223.41" font-size="7.45" font-weight="bold" fill="#222" textLength="29.76" lengthAdjust="spacingAndGlyphs" stroke="#222" stroke-width="0.3">Control</text>
<g id="fix1"><rect x="25.82" y="77.09" width="2.64" height="3.15" fill="#fff"/><rect x="30.04" y="77.09" width="2.48" height="3.15" fill="#fff"/><g transform="translate(23.05,162.11) rotate(-90)"><rect x="22.16" y="-2.46" width="2.87" height="3.46" fill="#fff"/><rect x="26.79" y="-2.46" width="2.69" height="3.46" fill="#fff"/></g><g transform="translate(23.05,162.11) rotate(-90)"><rect x="29.81" y="-2.46" width="3.12" height="3.46" fill="#fff"/><rect x="34.90" y="-2.46" width="2.92" height="3.46" fill="#fff"/></g><rect x="260.36" y="146.39" width="2.64" height="3.15" fill="#fff"/><rect x="264.58" y="146.39" width="2.48" height="3.15" fill="#fff"/><rect x="490.96" y="149.09" width="2.64" height="3.15" fill="#fff"/><rect x="495.18" y="149.09" width="2.48" height="3.15" fill="#fff"/><g transform="translate(482.92,162.55) rotate(-90)"><rect x="22.38" y="-2.47" width="3.14" height="3.47" fill="#fff"/><rect x="27.51" y="-2.47" width="2.94" height="3.47" fill="#fff"/></g><g transform="translate(482.92,162.55) rotate(-90)"><rect x="35.05" y="-2.47" width="3.14" height="3.47" fill="#fff"/><rect x="40.18" y="-2.47" width="2.94" height="3.47" fill="#fff"/></g><rect x="22.91" y="338.34" width="2.68" height="3.17" fill="#fff"/><rect x="27.20" y="338.34" width="2.51" height="3.17" fill="#fff"/><rect x="22.73" y="316.47" width="2.68" height="3.17" fill="#fff"/><rect x="27.02" y="316.47" width="2.51" height="3.17" fill="#fff"/><rect x="131.50" y="44.96" width="1.57" height="2.46" fill="#fff"/><rect x="133.80" y="44.96" width="1.49" height="2.46" fill="#fff"/><g transform="translate(125.94,52.74) rotate(-90)"><rect x="10.75" y="-1.62" width="1.70" height="2.62" fill="#fff"/><rect x="13.28" y="-1.62" width="1.61" height="2.62" fill="#fff"/></g><g transform="translate(125.94,52.74) rotate(-90)"><rect x="14.55" y="-1.62" width="1.83" height="2.62" fill="#fff"/><rect x="17.31" y="-1.62" width="1.73" height="2.62" fill="#fff"/></g><rect x="359.20" y="48.63" width="1.57" height="2.46" fill="#fff"/><rect x="361.50" y="48.63" width="1.49" height="2.46" fill="#fff"/><rect x="586.66" y="12.41" width="1.57" height="2.46" fill="#fff"/><rect x="588.96" y="12.41" width="1.49" height="2.46" fill="#fff"/><g transform="translate(584.84,52.66) rotate(-90)"><rect x="10.80" y="-1.62" width="1.83" height="2.62" fill="#fff"/><rect x="13.56" y="-1.62" width="1.73" height="2.62" fill="#fff"/></g><g transform="translate(584.84,52.66) rotate(-90)"><rect x="17.05" y="-1.62" width="1.83" height="2.62" fill="#fff"/><rect x="19.81" y="-1.62" width="1.73" height="2.62" fill="#fff"/></g><rect x="131.59" y="246.88" width="1.62" height="2.49" fill="#fff"/><rect x="133.98" y="246.88" width="1.54" height="2.49" fill="#fff"/><rect x="131.50" y="235.65" width="1.62" height="2.49" fill="#fff"/><rect x="133.89" y="235.65" width="1.54" height="2.49" fill="#fff"/><rect x="358.20" y="261.31" width="1.57" height="2.46" fill="#fff"/><rect x="360.50" y="261.31" width="1.49" height="2.46" fill="#fff"/></g><!--fix1-->
</svg>
</body></html>
